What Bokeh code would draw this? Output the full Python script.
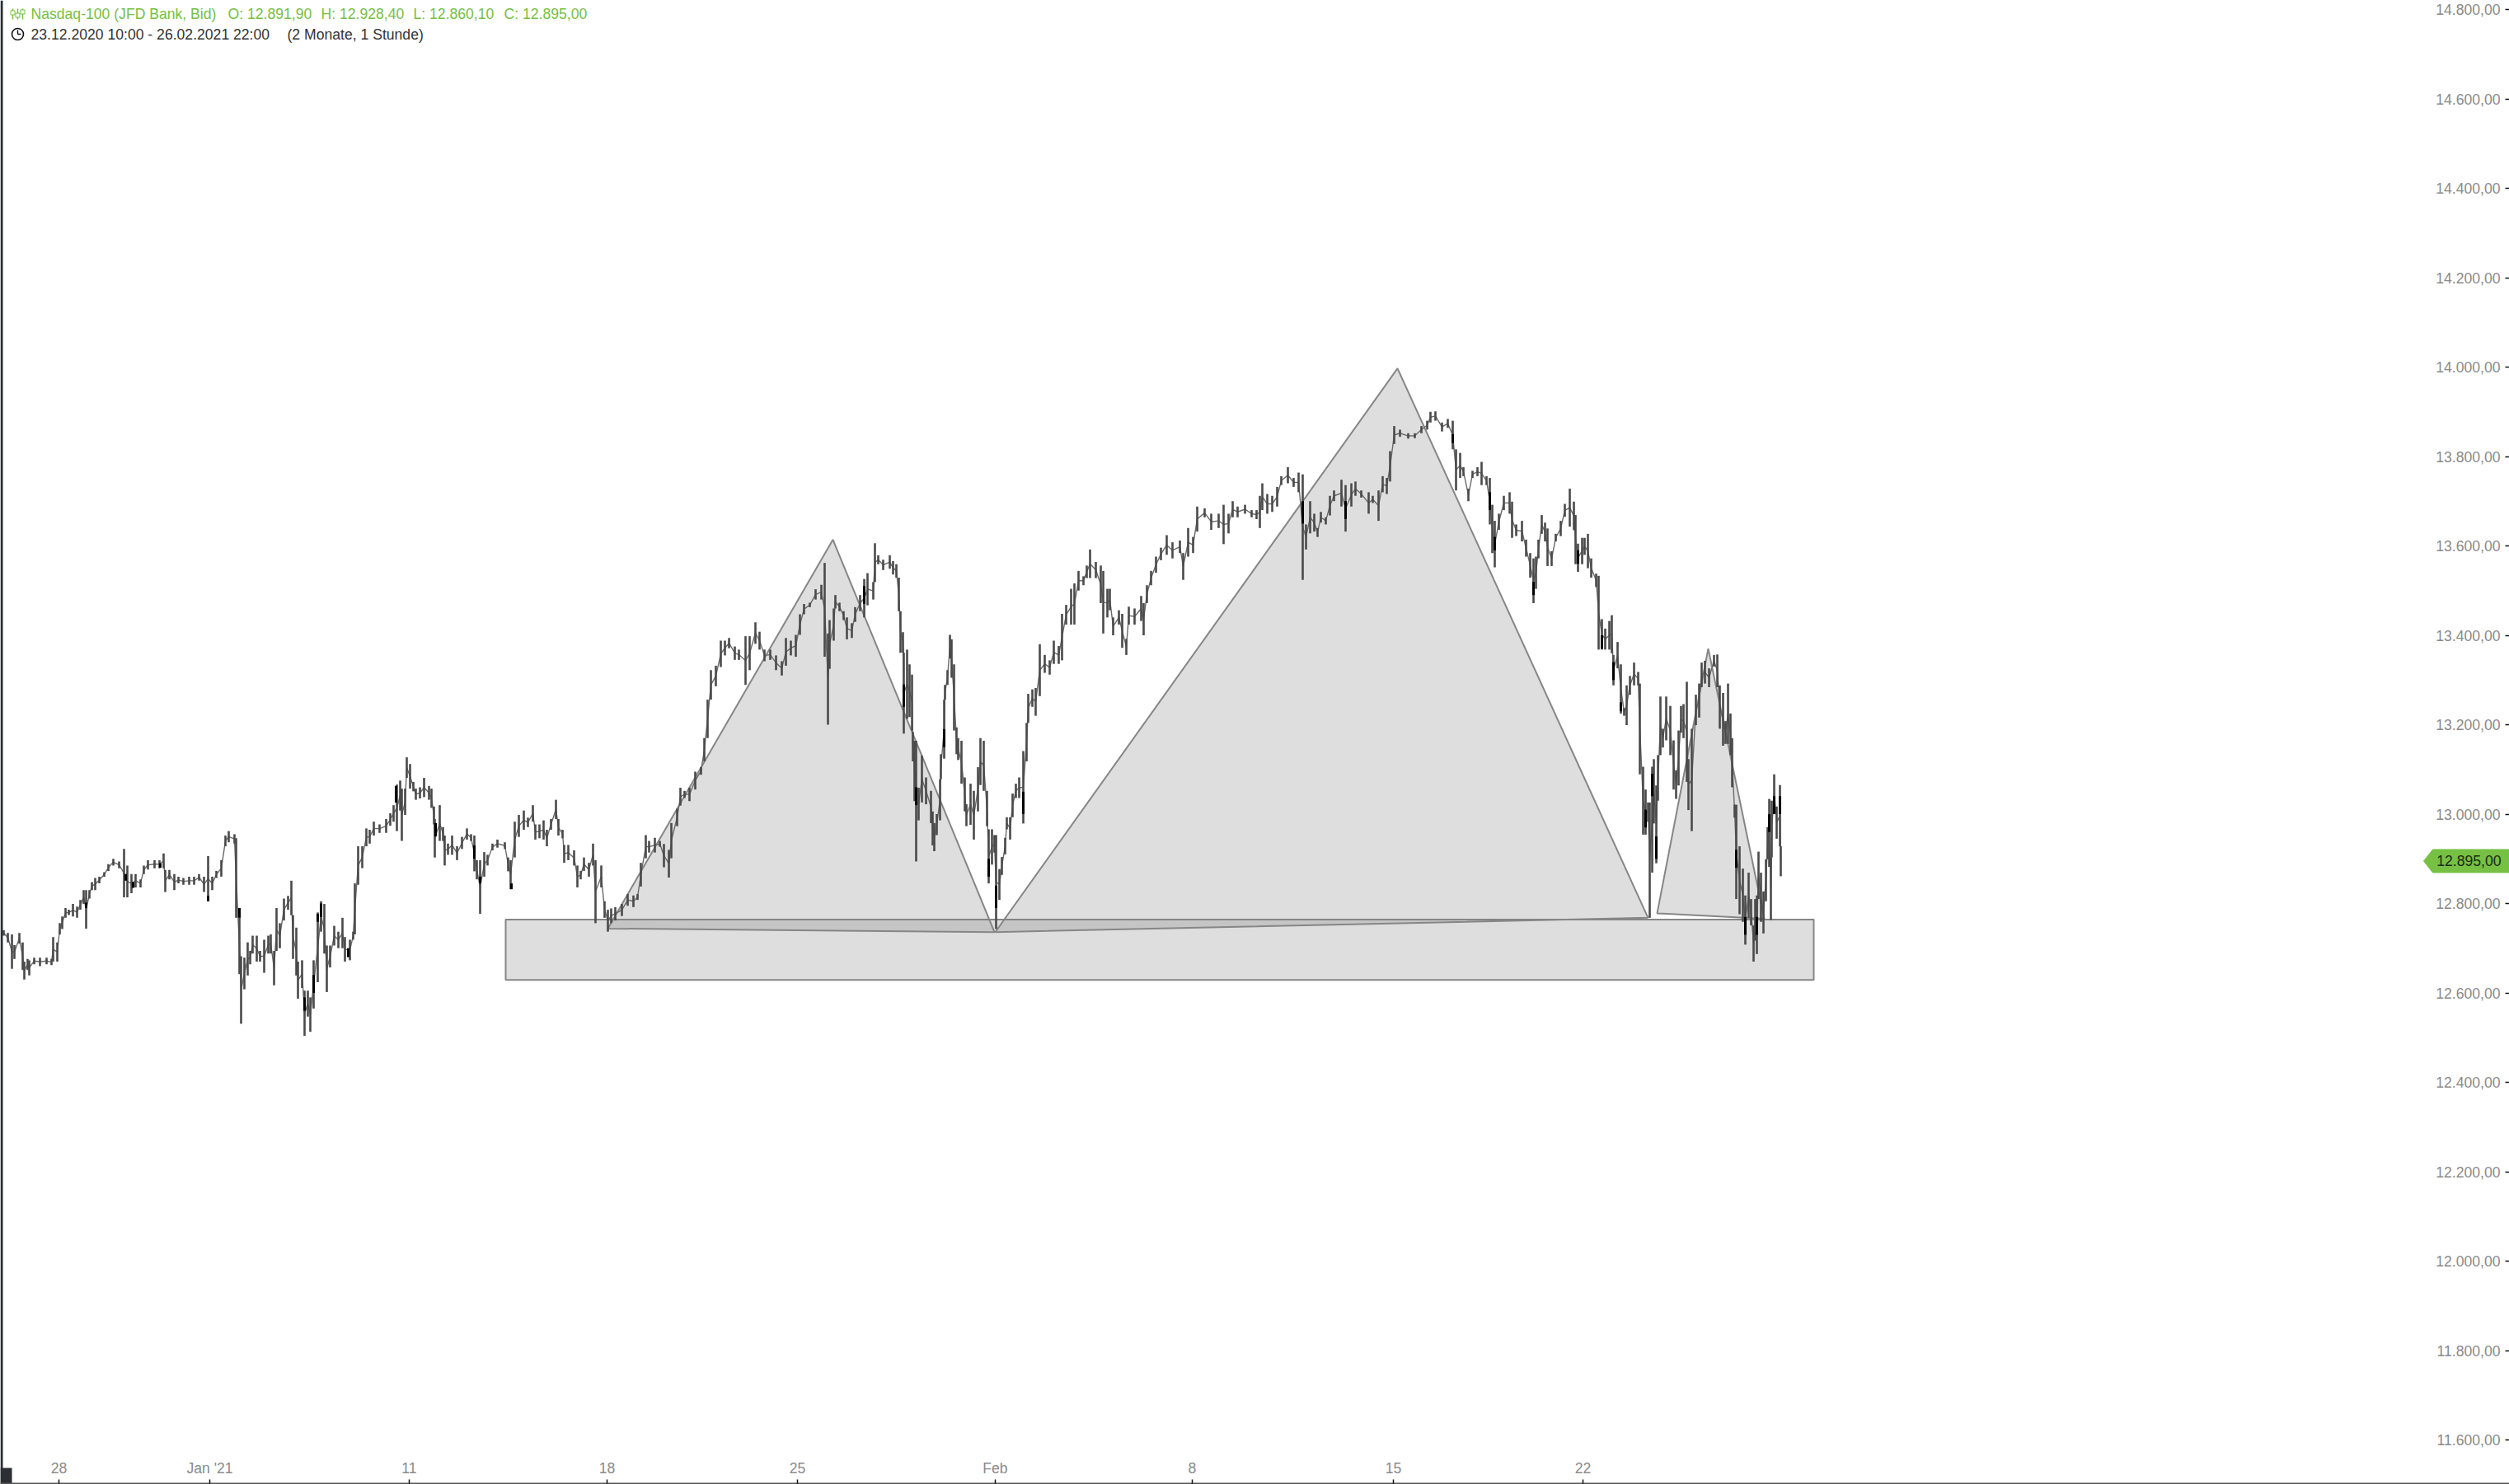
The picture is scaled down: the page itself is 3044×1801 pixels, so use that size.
from bokeh.embed import file_html
from bokeh.resources import INLINE
from bokeh.plotting import figure
from bokeh.models import Range1d, LinearAxis, FixedTicker, Label

# Nasdaq-100 hourly bars (x = position on the compressed time scale, prices in points)
bars = """
4 12740 12728;9 12734 12713;14 12731 12654;17 12707 12676;23 12734 12710;27 12713 12651;29 12670 12630;33 12676 12651;35 12673 12639;41 12679 12664
48 12679 12660;56 12679 12664;62 12676 12662;64 12725 12670;69 12713 12670;72 12756 12731;75 12771 12743;79 12790 12768;83 12786 12774;88 12799 12771
93 12793 12768;97 12808 12786;101 12830 12799;104 12830 12744;108 12830 12811;111 12848 12830;115 12857 12830;120 12860 12845;126 12870 12860;131 12888 12873
137 12900 12885;144 12894 12879;150 12922 12814;154 12885 12814;159 12866 12823;164 12866 12836;170 12854 12836;174 12885 12866;179 12897 12876;187 12897 12879
193 12897 12879;198 12912 12879;200 12875 12826;205 12875 12854;211 12866 12830;216 12860 12845;222 12857 12842;229 12860 12842;235 12860 12842;241 12866 12851
247 12860 12826;252 12906 12805;257 12860 12830;262 12873 12857;268 12897 12860;273 12952 12928;277 12962 12937;284 12955 12934;286 12946 12768;290 12768 12642
292 12682 12531;296 12679 12608;300 12713 12639;303 12694 12664;306 12728 12688;311 12728 12670;315 12694 12670;320 12719 12645;325 12728 12688;328 12731 12688
332 12694 12617;335 12790 12694;339 12756 12700;344 12811 12762;349 12817 12786;353 12851 12774;355 12774 12676;359 12746 12639;361 12670 12587;366 12673 12611
369 12605 12504;373 12605 12547;376 12590 12513;380 12673 12565;385 12780 12624;389 12805 12737;393 12799 12688;396 12706 12602;400 12706 12657;405 12750 12706
410 12737 12700;415 12768 12700;418 12725 12670;424 12719 12673;428 12737 12719;430 12845 12731;434 12928 12842;439 12928 12879;444 12968 12928;448 12965 12934
453 12983 12952;460 12977 12958;468 12989 12958;473 13002 12974;477 13020 12983;481 13066 12962;485 13075 13008;487 13057 12940;491 13057 12998;493 13127 13081
497 13112 13057;501 13072 13051;504 13057 13032;509 13060 13035;514 13081 13038;520 13063 13032;523 13057 13014;526 13017 12977;527 12989 12903;533 13020 12940
537 12971 12940;539 12952 12885;543 12934 12909;548 12952 12909;554 12928 12897;560 12949 12922;566 12968 12943;571 12955 12940;575 12952 12872;578 12897 12854
582 12897 12777;587 12915 12860;591 12909 12885;597 12934 12919;603 12943 12925;612 12937 12922;616 12903 12872;619 12897 12832;624 12983 12903;629 12998 12949
635 13008 12965;640 12992 12971;646 13020 12983;649 12977 12943;654 12977 12946;659 12986 12943;663 12965 12928;668 12989 12965;674 13032 12989;677 12989 12952
682 12965 12946;684 12931 12891;689 12931 12897;696 12919 12885;700 12885 12836;704 12873 12854;708 12903 12873;714 12891 12860;719 12934 12885;722 12897 12756
729 12885 12836;733 12805 12768;737 12786 12737;741 12789 12756;746 12792 12762;754 12799 12772;761 12821 12795;768 12818 12792;773 12821 12808;777 12891 12838
783 12953 12901;787 12940 12914;794 12947 12914;800 12940 12927;805 12933 12881;811 12920 12858;814 12980 12901;821 13012 12973;825 13059 13019;830 13052 13036
836 13059 13029;843 13095 13055;850 13105 13088;854 13170 13118;858 13256 13170;862 13322 13256;868 13332 13286;874 13388 13329;879 13388 13355;884 13394 13371
891 13375 13345;896 13368 13345;904 13398 13289;909 13398 13322;916 13429 13381;921 13408 13368;927 13368 13342;934 13368 13345;941 13355 13322;948 13342 13310
953 13394 13332;959 13388 13355;965 13401 13352;970 13447 13401;975 13470 13447;982 13473 13463;989 13503 13480;996 13513 13480;1000 13562 13352;1004 13404 13200
1006 13434 13325;1011 13460 13388;1013 13490 13460;1018 13473 13454;1023 13454 13434;1027 13440 13391;1033 13427 13394;1037 13463 13430;1043 13490 13454;1048 13526 13440
1052 13539 13467;1059 13519 13480;1061 13606 13519;1065 13579 13559;1071 13569 13546;1079 13579 13549;1083 13566 13536;1087 13559 13529;1090 13529 13454;1092 13454 13361
1095 13407 13361;1096 13361 13180;1100 13368 13213;1103 13335 13217;1106 13312 13187;1107 13184 13118;1109 13164 13029;1111 13164 12894;1114 13059 12986;1118 13131 13026
1123 13082 13022;1129 13052 12980;1131 13006 12930;1133 12980 12917;1136 13000 12953;1140 13078 12986;1141 13134 13078;1145 13256 13124;1146 13289 13256;1149 13322 13289
1152 13401 13348;1154 13391 13305;1157 13335 13187;1160 13194 13134;1162 13170 13121;1166 13164 13068;1170 13082 13006;1172 13022 12973;1177 13068 12976;1181 13052 12943
1186 13105 13006;1189 13170 13065;1193 13164 13052;1197 13052 12973;1199 12966 12845;1203 12966 12887;1206 12953 12914;1208 12953 12743;1212 12877 12808;1215 12904 12864
1219 12947 12910;1221 12993 12966;1225 12993 12943;1228 13046 12993;1232 13068 13036;1236 13082 13036;1241 13141 12979;1245 13204 13118;1247 13269 13204;1252 13279 13240
1256 13282 13220;1261 13380 13264;1267 13356 13316;1273 13344 13312;1278 13388 13336;1284 13376 13336;1288 13448 13344;1293 13468 13424;1299 13504 13424;1303 13516 13424
1308 13544 13500;1314 13532 13512;1318 13556 13528;1322 13592 13528;1329 13564 13528;1335 13556 13472;1338 13544 13404;1343 13504 13440;1346 13504 13456;1350 13440 13400
1357 13456 13424;1361 13448 13372;1366 13392 13356;1369 13464 13424;1376 13460 13424;1384 13488 13432;1387 13472 13400;1391 13512 13472;1396 13544 13512;1402 13576 13540
1408 13596 13568;1415 13624 13580;1422 13608 13572;1431 13612 13584;1435 13584 13524;1441 13640 13576;1447 13620 13584;1452 13688 13632;1461 13684 13664;1469 13672 13636
1478 13672 13640;1484 13692 13604;1490 13672 13628;1495 13700 13664;1501 13688 13664;1510 13692 13672;1518 13680 13664;1524 13680 13660;1528 13712 13640;1531 13740 13680
1537 13716 13672;1543 13712 13676;1549 13732 13688;1554 13756 13736;1562 13776 13740;1569 13752 13732;1575 13764 13720;1580 13760 13524;1584 13648 13592;1589 13700 13628
1594 13672 13632;1598 13640 13620;1602 13676 13652;1608 13664 13648;1613 13712 13668;1618 13724 13700;1627 13748 13688;1632 13736 13632;1639 13740 13688;1644 13744 13712
1651 13724 13708;1660 13720 13672;1665 13712 13696;1672 13724 13656;1677 13756 13720;1682 13752 13716;1686 13812 13744;1691 13868 13828;1698 13860 13844;1708 13852 13840
1716 13852 13841;1724 13868 13852;1731 13880 13860;1735 13900 13876;1741 13901 13880;1749 13876 13856;1756 13884 13864;1762 13880 13816;1766 13816 13724;1771 13808 13752
1775 13776 13756;1781 13728 13700;1786 13768 13752;1792 13776 13756;1797 13788 13736;1803 13756 13736;1807 13752 13648;1810 13692 13584;1813 13656 13552;1818 13672 13636
1824 13712 13680;1831 13720 13672;1834 13699 13618;1839 13648 13622;1846 13656 13610;1851 13614 13576;1856 13584 13529;1860 13572 13472;1863 13576 13504;1866 13614 13572
1870 13669 13627;1874 13652 13610;1877 13639 13555;1882 13588 13555;1887 13627 13610;1893 13656 13622;1898 13694 13665;1904 13728 13643;1909 13699 13635;1911 13669 13559
1914 13605 13542;1919 13618 13559;1922 13618 13580;1926 13627 13550;1930 13572 13529;1936 13538 13508;1939 13533 13368;1943 13436 13368;1947 13415 13368;1952 13432 13368
1955 13445 13360;1957 13356 13288;1962 13385 13326;1966 13335 13225;1970 13237 13220;1973 13288 13199;1977 13309 13267;1982 13339 13288;1987 13318 13288;1989 13292 13089
1993 13106 12954;1996 13055 12954;1999 13026 12983;2001 13026 12768;2004 13106 12869;2006 13123 12979;2009 13064 12890;2011 13132 13030;2014 13263 13132;2017 13191 13149
2021 13263 13165;2026 13242 13132;2030 13165 13055;2033 13098 13034;2036 13187 13064;2039 13242 13182;2042 13246 13170;2046 13296 13072;2048 13123 13009;2052 13191 12962
2057 13267 13199;2061 13292 13216;2064 13339 13284;2068 13343 13292;2073 13326 13284;2079 13356 13330;2083 13357 13284;2086 13288 13191;2090 13271 13153;2093 13208 13157
2096 13292 13157;2099 13225 13132;2101 13170 13060;2104 13021 12992;2106 13021 12810;2110 12928 12776;2114 12878 12759;2117 12818 12708;2121 12869 12768;2124 12810 12751
2127 12751 12670;2129 12810 12717;2131 12818 12687;2133 12916 12810;2136 12869 12759;2139 12827 12733;2142 12899 12805;2144 12971 12899;2146 13034 12882;2148 12903 12763
2149 13030 12903;2152 13089 13004;2155 13017 12945;2159 13065 12928;2160 12928 12861
"""
rows = [r.split() for line in bars.strip().splitlines() for r in line.split(";")]
bar_x = [float(r[0]) for r in rows]
bar_high = [float(r[1]) for r in rows]
bar_low = [float(r[2]) for r in rows]

# darkest candle bodies
body_x = [104, 152, 161, 194, 252, 290, 369, 380, 385, 389, 422, 480, 528, 575, 582, 620,
          1048, 1096, 1111, 1145, 1199, 1208, 1241, 1580, 1632, 1762, 1807, 1813, 1860, 1914,
          1943, 1957, 1966, 1996, 2004, 2009, 2106, 2117, 2131, 2146, 2152, 2159]
body_top = [12802, 12866, 12848, 12890, 12817, 12790, 12590, 12640, 12777, 12800, 12700, 13063, 12980, 12930, 12860, 12845,
            13510, 13290, 13060, 13190, 12900, 12840, 13050, 13700, 13700, 13850, 13720, 13620, 13520, 13590,
            13400, 13340, 13250, 13010, 13090, 12950, 12920, 12770, 12770, 13000, 13040, 13040]
body_bot = [12790, 12851, 12835, 12880, 12805, 12768, 12560, 12600, 12759, 12770, 12680, 13026, 12950, 12900, 12845, 12832,
            13470, 13240, 13020, 13150, 12860, 12790, 13000, 13650, 13660, 13830, 13680, 13590, 13490, 13560,
            13370, 13300, 13230, 12970, 13040, 12900, 12880, 12730, 12730, 12960, 13000, 13000]

# drawings
zone_left, zone_right, zone_top, zone_bottom = 613, 2200, 12764, 12629
tri_1_x = [737, 1010, 1206]
tri_1_y = [12744, 13614, 12736]
tri_2_x = [1207, 1695, 1999]
tri_2_y = [12736, 13997, 12768]
tri_3_x = [2010, 2072, 2140]
tri_3_y = [12778, 13370, 12766]

# axes
y_ticks = [11600, 11800, 12000, 12200, 12400, 12600, 12800, 13000, 13200, 13400, 13600, 13800, 14000, 14200, 14400, 14600, 14800]
y_labels = ["11.600,00", "11.800,00", "12.000,00", "12.200,00", "12.400,00", "12.600,00", "12.800,00", "13.000,00", "13.200,00",
            "13.400,00", "13.600,00", "13.800,00", "14.000,00", "14.200,00", "14.400,00", "14.600,00", "14.800,00"]
x_ticks = [71, 254, 496, 736, 967, 1207, 1446, 1690, 1920]
x_labels = ["28", "Jan '21", "11", "18", "25", "Feb", "8", "15", "22"]
last_price = 12895

FONT = "Liberation Sans"
GREEN = "#76c043"
W, H = 3044, 1801
PT_PER_PX = 200 / 108.5


def py(y_px):
    return 14800 - (y_px - 11) * PT_PER_PX


p = figure(width=W, height=H, output_backend="svg", toolbar_location=None,
           x_range=Range1d(0, W), y_range=Range1d(py(H), py(0)),
           min_border=0, min_border_left=0, min_border_right=0, min_border_top=0, min_border_bottom=0,
           x_axis_type=None, y_axis_type=None, outline_line_color=None)
p.grid.visible = False

# drawings under the price bars
shape = dict(fill_color="#808080", fill_alpha=0.26, line_color="#868686", line_width=2)
p.quad(left=[zone_left], right=[zone_right], top=[zone_top], bottom=[zone_bottom], **shape)
p.patch(tri_1_x, tri_1_y, **shape)
p.patch(tri_2_x, tri_2_y, **shape)
p.patch(tri_3_x, tri_3_y, **shape)

# price bars
mid = [(a + b) / 2 for a, b in zip(bar_high, bar_low)]
p.line(bar_x, mid, line_color="#6a6a6a", line_width=1.4)
p.segment(bar_x, bar_low, bar_x, bar_high, line_color="#4a4a4a", line_width=2.6)
p.segment(body_x, body_bot, body_x, body_top, line_color="#000000", line_width=3)

# last-price tag
tag = 14 * PT_PER_PX
tip = 11
p.patch([2940, 2940 + tip, W, W, 2940 + tip],
        [last_price, last_price + tag, last_price + tag, last_price - tag, last_price - tag],
        fill_color=GREEN, line_color=GREEN, line_width=1)
p.add_layout(Label(x=3034, y=last_price, text="12.895,00", text_font=FONT, text_font_size="17.6px",
                   text_color="#1c2a14", text_align="right", text_baseline="middle"))

# axes inside the frame, as in the reference
yax = LinearAxis(fixed_location=W, ticker=FixedTicker(ticks=y_ticks),
                 major_label_overrides=dict(zip(y_ticks, y_labels)),
                 major_label_text_font=FONT, major_label_text_font_size="17.6px", major_label_text_color="#8a8a8a",
                 major_tick_in=0, major_tick_out=5, major_tick_line_color="#111111", major_tick_line_width=1.5,
                 minor_tick_line_color=None, axis_line_color=None, major_label_standoff=6)
p.add_layout(yax, "left")
xax = LinearAxis(fixed_location=py(H - 1), ticker=FixedTicker(ticks=x_ticks),
                 major_label_overrides=dict(zip(x_ticks, x_labels)),
                 major_label_text_font=FONT, major_label_text_font_size="17.6px", major_label_text_color="#8a8a8a",
                 major_tick_in=0, major_tick_out=5, major_tick_line_color="#111111", major_tick_line_width=1.5,
                 minor_tick_line_color=None, axis_line_color="#555555", axis_line_width=2, major_label_standoff=4)
p.add_layout(xax, "above")

# window edge and corner
p.segment([1.5], [py(H)], [1.5], [py(0)], line_color="#2b2f33", line_width=3)
p.quad(left=[0], right=[14], top=[py(1781)], bottom=[py(H)], fill_color="#2b2f33", line_color=None)

# header
head = dict(text_font=FONT, text_font_size="17.6px", text_baseline="middle")
for x0, s in [(37, "Nasdaq-100 (JFD Bank, Bid)"), (276, "O: 12.891,90"), (389, "H: 12.928,40"),
              (501, "L: 12.860,10"), (611, "C: 12.895,00")]:
    p.add_layout(Label(x=x0, y=py(16), text=s, text_color=GREEN, **head))
for x0, s in [(37, "23.12.2020 10:00 - 26.02.2021 22:00"), (348, "(2 Monate, 1 Stunde)")]:
    p.add_layout(Label(x=x0, y=py(41), text=s, text_color="#333333", **head))

# small header icons
p.segment([15, 21, 27], [py(10), py(10), py(10)], [15, 21, 27], [py(23), py(23), py(23)], line_color=GREEN, line_width=1.5)
p.scatter([15, 21, 27], [py(15), py(18), py(14)], size=5, marker="square", fill_color="white", line_color=GREEN)
p.scatter([21], [py(41)], size=14, marker="circle", fill_color="white", line_color="#111111", line_width=1.6)
p.segment([21, 21], [py(41), py(41)], [21, 25], [py(36), py(41)], line_color="#111111", line_width=1.4)

open("out.html", "w").write(file_html(p, INLINE))
